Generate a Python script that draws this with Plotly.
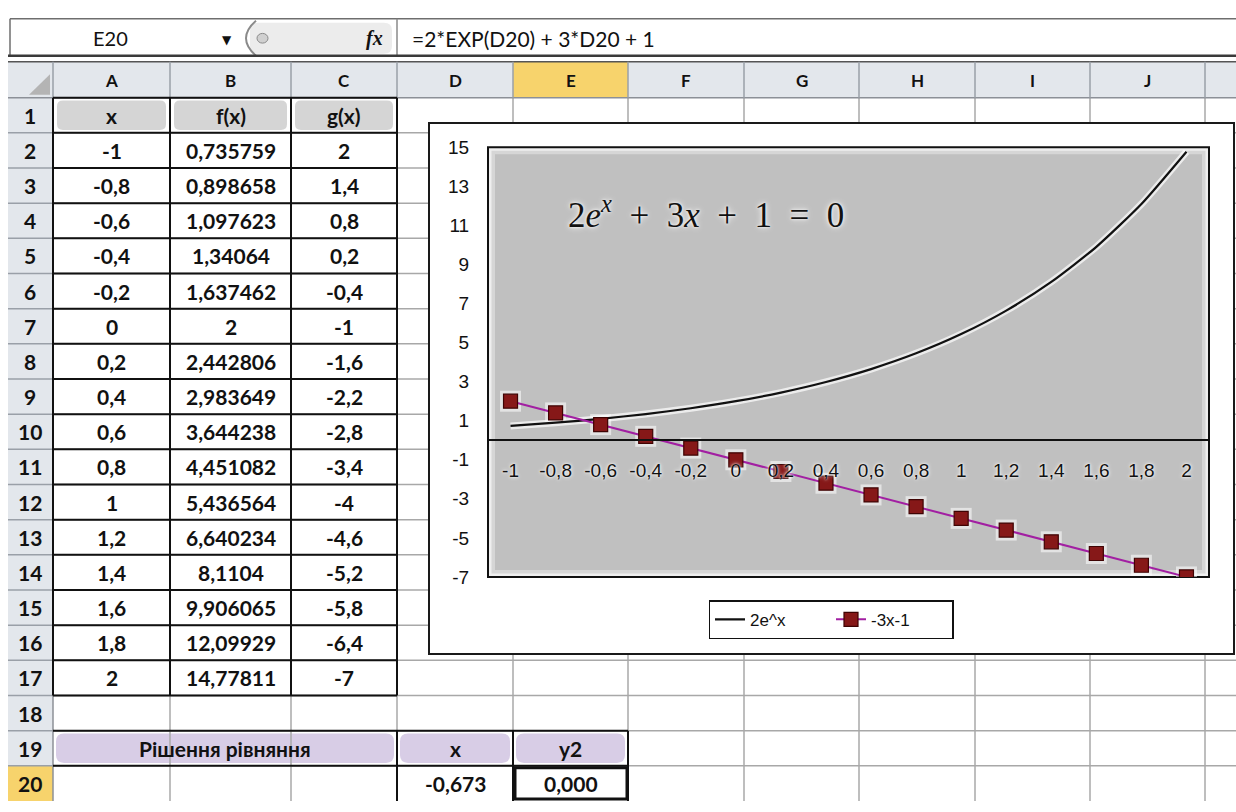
import plotly.graph_objects as go

# ---------------- data ----------------
x_vals = [-1, -0.8, -0.6, -0.4, -0.2, 0, 0.2, 0.4, 0.6, 0.8, 1, 1.2, 1.4, 1.6, 1.8, 2]
f_vals = [0.735759, 0.898658, 1.097623, 1.34064, 1.637462, 2, 2.442806, 2.983649,
          3.644238, 4.451082, 5.436564, 6.640234, 8.1104, 9.906065, 12.09929, 14.77811]
g_vals = [2, 1.4, 0.8, 0.2, -0.4, -1, -1.6, -2.2, -2.8, -3.4, -4, -4.6, -5.2, -5.8, -6.4, -7]
y_tick_vals = [-7, -5, -3, -1, 1, 3, 5, 7, 9, 11, 13, 15]
col_letters = ["A", "B", "C", "D", "E", "F", "G", "H", "I", "J"]
table_headers = ["x", "f(x)", "g(x)"]
series_names = ["2e^x", "-3x-1"]
solution_label = "Рішення рівняння"
solution_headers = ["x", "y2"]
root_x = -0.673
root_y = 0.000
name_box = "E20"
formula = "=2*EXP(D20) + 3*D20 + 1"

def fmt(v):
    return ("%.10g" % v).replace(".", ",")

x_labels = [fmt(v) for v in x_vals]

# ---------------- geometry helpers (pixels -> paper) ----------------
W, H = 1236, 812
def X(px):
    return px / W
def Y(py):
    return 1 - py / H

col_edges = [8, 53, 170, 291, 397, 513, 628, 744, 859, 975, 1090, 1205, 1236]
ROW_TOP = 90
ROW_H = 36.1
def row_top(r):
    return ROW_TOP + (r - 1) * ROW_H
def row_mid(r):
    return ROW_TOP + (r - 0.5) * ROW_H
def col_mid(i):  # i = 1 for A
    return (col_edges[i] + col_edges[i + 1]) / 2

shapes = []
annotations = []

def line(x0, y0, x1, y1, color, width):
    shapes.append(dict(type="line", xref="paper", yref="paper", x0=X(x0), y0=Y(y0),
                       x1=X(x1), y1=Y(y1), line=dict(color=color, width=width), layer="below"))

def rect(x0, y0, x1, y1, fill, lc=None, lw=0):
    shapes.append(dict(type="rect", xref="paper", yref="paper", x0=X(x0), y0=Y(y0),
                       x1=X(x1), y1=Y(y1), fillcolor=fill,
                       line=dict(color=lc or "rgba(0,0,0,0)", width=lw), layer="below"))

def rrect(x0, y0, x1, y1, r, fill):
    p = (f"M {X(x0 + r)} {Y(y0)} L {X(x1 - r)} {Y(y0)} Q {X(x1)} {Y(y0)} {X(x1)} {Y(y0 + r)} "
         f"L {X(x1)} {Y(y1 - r)} Q {X(x1)} {Y(y1)} {X(x1 - r)} {Y(y1)} "
         f"L {X(x0 + r)} {Y(y1)} Q {X(x0)} {Y(y1)} {X(x0)} {Y(y1 - r)} "
         f"L {X(x0)} {Y(y0 + r)} Q {X(x0)} {Y(y0)} {X(x0 + r)} {Y(y0)} Z")
    shapes.append(dict(type="path", xref="paper", yref="paper", path=p, fillcolor=fill,
                       line=dict(width=0), layer="below"))

def text(x, y, s, size=21, bold=True, family="Lato", color="#111", xanchor="center"):
    annotations.append(dict(xref="paper", yref="paper", x=X(x), y=Y(y), text=s, showarrow=False,
                            xanchor=xanchor, yanchor="middle",
                            font=dict(family=family, size=size, color=color,
                                      weight="bold" if bold else "normal")))

# ---------------- formula bar ----------------
line(10, 9, 1236, 9, "#6e6e6e", 1.5)
line(10, 9, 10, 47, "#6e6e6e", 1.5)
line(397, 9, 397, 47, "#8a8a8a", 1.5)
rrect(250, 13, 392, 45, 8, "#ececec")
shapes.append(dict(type="path", xref="paper", yref="paper",
                   path=f"M {X(256)} {Y(11)} Q {X(236)} {Y(29)} {X(256)} {Y(47)}",
                   line=dict(color="#8a8a8a", width=2), layer="below"))
shapes.append(dict(type="circle", xref="paper", yref="paper", x0=X(257), y0=Y(24), x1=X(268), y1=Y(34),
                   fillcolor="#d0d0d0", line=dict(color="#8a8a8a", width=1), layer="below"))
text(110, 29, name_box, size=20, bold=False)
text(227, 31, "▼", size=12, bold=False, family="DejaVu Sans")
text(374, 29, "<b><i>f</i></b><i>x</i>", size=20, bold=True, family="Liberation Serif")
text(410, 29, formula, size=21, bold=False, xanchor="left")
line(8, 47, 1236, 47, "#3a3a3a", 2.5)

# ---------------- headers ----------------
rect(8, 53, 1236, 90, "#e3e7ec")
rect(8, 90, 53, 812, "#e3e7ec")
rect(col_edges[5], 53, col_edges[6], 90, "#f7d36c")
rect(8, row_top(20), 53, 812, "#f7d36c")
shapes.append(dict(type="path", xref="paper", yref="paper",
                   path=f"M {X(50)} {Y(66)} L {X(50)} {Y(87)} L {X(29)} {Y(87)} Z",
                   fillcolor="#b4b4b4", line=dict(width=0), layer="below"))

# cell fills
for i in range(1, 4):
    rrect(col_edges[i] + 4, row_top(1) + 3, col_edges[i + 1] - 4, row_top(2) - 3, 6, "#d5d5d5")
rrect(col_edges[1] + 3, row_top(19) + 3, col_edges[4] - 3, row_top(20) - 3, 8, "#d8cde6")
for i in (4, 5):
    rrect(col_edges[i] + 3, row_top(19) + 3, col_edges[i + 1] - 3, row_top(20) - 3, 8, "#d8cde6")

# grid lines
GRID = "#a8a8a8"
for ce in col_edges[2:-1]:
    line(ce, 90, ce, 812, GRID, 1.5)
for r in range(2, 21):
    line(53, row_top(r), 1236, row_top(r), GRID, 1.5)
# header separators
line(8, 53, 1236, 53, "#555", 1.5)
line(8, 90, 1236, 90, "#8c9097", 1.5)
for ce in col_edges[1:-1]:
    line(ce, 53, ce, 90, "#9aa0a8", 1.5)
for r in range(2, 21):
    line(8, row_top(r), 53, row_top(r), "#9aa0a8", 1.5)
line(53, 90, 53, 812, "#8c9097", 1.5)

# table borders A1:C17
for ce in col_edges[1:5]:
    line(ce, row_top(1), ce, row_top(18), "#111", 2)
for r in range(1, 19):
    line(53, row_top(r), 397, row_top(r), "#111", 2)
# solution block borders
line(53, row_top(19), 628, row_top(19), "#111", 2)
line(53, row_top(20), 628, row_top(20), "#111", 2)
for ce in (397, 513, 628):
    line(ce, row_top(19), ce, 812, "#111", 2)
# selected cell E20
rect(515, row_top(20) + 2, 627, 810, "rgba(0,0,0,0)", "#111", 3)

# header texts
for i, c in enumerate(col_letters, start=1):
    text(col_mid(i), 72, c, size=17)
for r in range(1, 21):
    text(30, row_mid(r), str(r), size=21)
for i, h in enumerate(table_headers, start=1):
    text(col_mid(i), row_mid(1), h, size=21)
for k in range(len(x_vals)):
    r = k + 2
    text(col_mid(1), row_mid(r), fmt(x_vals[k]))
    text(col_mid(2), row_mid(r), fmt(f_vals[k]))
    text(col_mid(3), row_mid(r), fmt(g_vals[k]))
text((col_edges[1] + col_edges[4]) / 2, row_mid(19), solution_label)
text(col_mid(4), row_mid(19), solution_headers[0])
text(col_mid(5), row_mid(19), solution_headers[1])
text(col_mid(4), row_mid(20), f"{root_x:.3f}".replace(".", ","))
text(col_mid(5), row_mid(20), f"{root_y:.3f}".replace(".", ","))

# chart area
rect(429, 116, 1234, 661, "white", "#1a1a1a", 2)

# plot area (domain-referenced)
shapes.append(dict(type="rect", xref="x domain", yref="y domain", x0=0, y0=0, x1=1, y1=1,
                   fillcolor="#c0c0c0", line=dict(width=0), layer="below"))
shapes.append(dict(type="rect", xref="x domain", yref="y domain", x0=0, y0=0, x1=1, y1=1,
                   fillcolor="rgba(0,0,0,0)", line=dict(color="rgba(255,255,255,0.35)", width=14), layer="below"))
shapes.append(dict(type="rect", xref="x domain", yref="y domain", x0=0, y0=0, x1=1, y1=1,
                   fillcolor="rgba(0,0,0,0)", line=dict(color="rgba(255,255,255,0.6)", width=7), layer="below"))
shapes.append(dict(type="rect", xref="x domain", yref="y domain", x0=0, y0=0, x1=1, y1=1,
                   fillcolor="rgba(0,0,0,0)", line=dict(color="#111", width=2), layer="below"))

# equation
annotations.append(dict(xref="paper", yref="paper", x=X(566), y=Y(208), xanchor="left", yanchor="middle",
                        showarrow=False,
                        text="2<i>e</i><sup><i>x</i></sup>\u2002+\u20023<i>x</i>\u2002+\u20021\u2002=\u20020",
                        font=dict(family="Liberation Serif", size=35, color="#111",
                                  shadow="0 0 3px #fff, 0 0 6px #fff")))

# ---------------- traces ----------------
fig = go.Figure()
fig.add_trace(go.Scatter(x=x_labels, y=f_vals, mode="lines", showlegend=False, hoverinfo="skip",
                         line=dict(color="rgba(255,255,255,0.7)", width=7, shape="spline", smoothing=0.6)))
fig.add_trace(go.Scatter(x=x_labels, y=g_vals, mode="markers", showlegend=False, hoverinfo="skip",
                         marker=dict(symbol="square", size=21, color="rgba(255,255,255,0.55)")))
fig.add_trace(go.Scatter(x=x_labels, y=f_vals, mode="lines", name=series_names[0],
                         line=dict(color="#111111", width=2.2, shape="spline", smoothing=0.6)))
fig.add_trace(go.Scatter(x=x_labels, y=g_vals, mode="lines+markers", name=series_names[1],
                         line=dict(color="#a21fa2", width=2),
                         marker=dict(symbol="square", size=14, color="#861818",
                                     line=dict(color="#3f0303", width=1.2))))

y_lo, y_hi = -7, 15
dom_y = [Y(582), Y(141)]
x_axis_pos = dom_y[0] + (0 - y_lo) / (y_hi - y_lo) * (dom_y[1] - dom_y[0])
tickfont = dict(family="Liberation Sans", size=19, color="#111", shadow="0 0 2px #fff, 0 0 4px #fff")

fig.update_layout(
    width=W, height=H, margin=dict(l=0, r=0, t=0, b=0),
    paper_bgcolor="white", plot_bgcolor="rgba(0,0,0,0)",
    shapes=shapes, annotations=annotations,
    xaxis=dict(type="category", domain=[X(488), X(1209)], range=[-0.5, 15.5],
               anchor="free", position=x_axis_pos, showgrid=False, zeroline=False,
               showline=True, linecolor="#111", linewidth=2,
               ticks="outside", ticklen=13, tickcolor="rgba(0,0,0,0)",
               tickfont=tickfont, fixedrange=True),
    yaxis=dict(domain=dom_y, range=[y_lo, y_hi], tickvals=y_tick_vals,
               ticktext=[str(v) for v in y_tick_vals], showgrid=False, zeroline=False,
               ticks="outside", ticklen=14, tickcolor="rgba(0,0,0,0)",
               tickfont=tickfont, fixedrange=True),
    legend=dict(orientation="h", x=X(831), y=Y(626), xanchor="center", yanchor="middle",
                bordercolor="#111", borderwidth=1.5, bgcolor="white",
                font=dict(family="Liberation Sans", size=17, color="#111"),
                entrywidth=76, entrywidthmode="pixels", itemwidth=30, tracegroupgap=0),
    showlegend=True,
)

fig.write_html("out.html", config={"displayModeBar": False},
               post_script="document.body.style.margin='0';document.body.style.overflow='hidden';")
